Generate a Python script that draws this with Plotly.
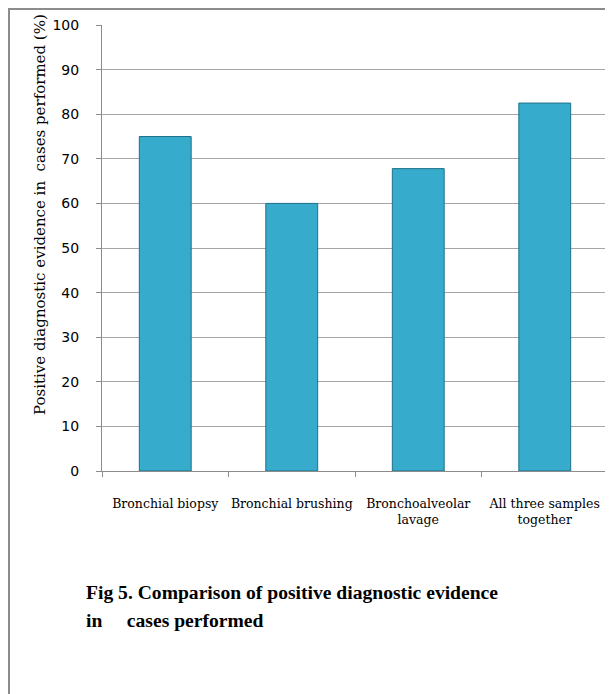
import plotly.graph_objects as go

categories = ["Bronchial biopsy", "Bronchial brushing", "Bronchoalveolar<br>lavage", "All three samples<br>together"]
values = [75, 60, 67.8, 82.5]
y_ticks = [0, 10, 20, 30, 40, 50, 60, 70, 80, 90, 100]

# page has an 8px body margin: figure placed at (8, 8)
OFF = 8
W, H = 613 - OFF, 694 - OFF
# plot area in page pixels: x 102..608, y 25..471
L = 102 - OFF
R = 613 - 608
T = 25 - OFF
B = 694 - 471
pw = W - L - R
ph = H - T - B

def px_x(x):
    return (x - OFF - L) / pw

def px_y(y):
    return (H - B - (y - OFF)) / ph

fig = go.Figure()
fig.add_trace(go.Bar(
    x=categories, y=values,
    marker=dict(color="#36abcc", line=dict(color="#1f7189", width=1)),
    width=0.41,
))

fig.update_layout(
    width=W, height=H,
    margin=dict(l=L, r=R, t=T, b=B, autoexpand=False),
    plot_bgcolor="white", paper_bgcolor="white",
    showlegend=False,
    xaxis=dict(
        type="category", showline=True, linecolor="#8c8c8c", linewidth=1,
        ticks="outside", tickson="boundaries", ticklen=5, tickcolor="#8c8c8c",
        tickfont=dict(family="DejaVu Serif", size=12.5, color="black"),
        tickangle=0,
        ticklabelstandoff=21, automargin=False,
        showgrid=False,
    ),
    yaxis=dict(
        range=[0, 100], tickvals=y_ticks,
        showline=True, linecolor="#8c8c8c", linewidth=1,
        ticks="outside", ticklen=5, tickcolor="#8c8c8c",
        showgrid=True, gridcolor="#a6a6a6", gridwidth=1,
        tickfont=dict(family="DejaVu Sans", size=14, color="black"),
        ticklabelstandoff=14, zeroline=False, automargin=False,
    ),
    annotations=[
        dict(text="Positive diagnostic evidence in  cases performed (%)",
             x=px_x(40), y=px_y(215), xref="paper", yref="paper",
             textangle=-90, showarrow=False, xanchor="center", yanchor="middle",
             font=dict(family="DejaVu Serif", size=15, color="black")),
        dict(text="<b>Fig 5. Comparison of positive diagnostic evidence</b>",
             x=px_x(84), y=px_y(592), xref="paper", yref="paper",
             showarrow=False, xanchor="left", yanchor="middle",
             font=dict(family="Liberation Serif", size=19.6, color="black")),
        dict(text="<b>in     cases performed</b>",
             x=px_x(84), y=px_y(620), xref="paper", yref="paper",
             showarrow=False, xanchor="left", yanchor="middle",
             font=dict(family="Liberation Serif", size=19.6, color="black")),
    ],
    shapes=[
        dict(type="line", xref="paper", yref="paper",
             x0=px_x(8), x1=px_x(613), y0=px_y(9), y1=px_y(9),
             line=dict(color="#8c8c8c", width=2)),
        dict(type="line", xref="paper", yref="paper",
             x0=px_x(9), x1=px_x(9), y0=px_y(8), y1=px_y(694),
             line=dict(color="#8c8c8c", width=2)),
    ],
)

fig.write_html("out.html")
